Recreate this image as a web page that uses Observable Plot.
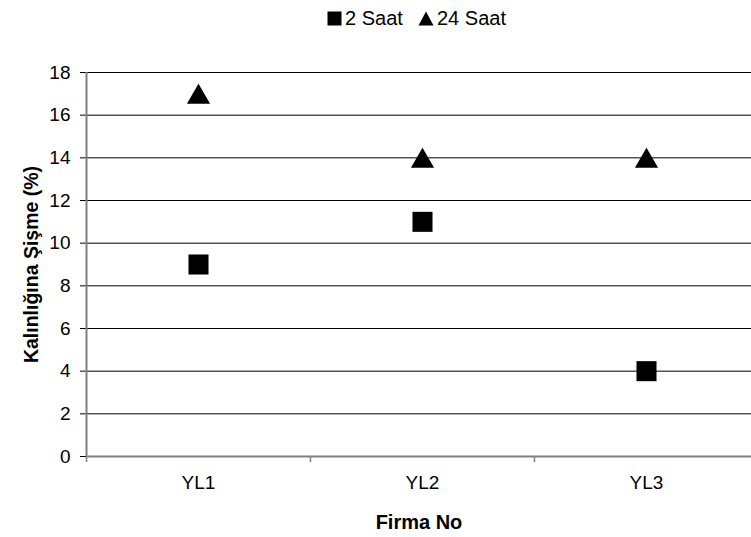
<!DOCTYPE html>
<html><head><meta charset="utf-8">
<script src="https://cdn.jsdelivr.net/npm/d3@7"></script>
<script src="https://cdn.jsdelivr.net/npm/@observablehq/plot@0.6"></script>
<style>
body{margin:0;background:#fff;font-family:"Liberation Sans",Arial,sans-serif;}
#legend{height:36px;width:751px;position:relative;font-size:20px;color:#000;}
#legend .item{position:absolute;top:7px;display:flex;align-items:center;line-height:22px;}
#legend svg{margin-right:3px;}
</style></head>
<body>
<div id="legend"></div>
<div id="chart"></div>
<script>
const categories = ["YL1", "YL2", "YL3"];
const series = ["2 Saat", "24 Saat"];
const values2h = [9, 11, 4];
const values24h = [17, 14, 14];
const yTicks = [0, 2, 4, 6, 8, 10, 12, 14, 16, 18];

const data = [];
categories.forEach((c, i) => {
  data.push({cat: c, pos: i + 0.5, series: series[0], value: values2h[i]});
  data.push({cat: c, pos: i + 0.5, series: series[1], value: values24h[i]});
});
const sq = data.filter(d => d.series === series[0]);
const tri = data.filter(d => d.series === series[1]);

const chart = Plot.plot({
  width: 751,
  height: 501,
  marginLeft: 86,
  marginTop: 36,
  marginBottom: 81,
  marginRight: 0,
  style: {fontFamily: "'Liberation Sans', Arial, sans-serif", background: "#fff"},
  x: {domain: [0, categories.length], range: [86, 758]},
  y: {domain: [0, 18]},
  marks: [
    Plot.ruleY(yTicks.filter(t => t > 0), {stroke: "#000", strokeWidth: 1}),
    Plot.axisY({ticks: yTicks, tickSize: 6, tickPadding: 10, fontSize: 19, label: null, stroke: "#000"}),
    Plot.axisX({ticks: d3.range(0, categories.length), tickSize: 6, tickFormat: () => "", label: null, stroke: "#808080", strokeWidth: 1.5}),
    Plot.axisX({ticks: categories.map((c, i) => i + 0.5), tickSize: 0, tickPadding: 19, fontSize: 19, tickFormat: v => categories[Math.floor(v)], label: null}),
    Plot.ruleX([0], {stroke: "#808080", strokeWidth: 2}),
    Plot.ruleY([0], {stroke: "#808080", strokeWidth: 2}),
    Plot.dot(sq, {x: "pos", y: "value", symbol: "square", r: 11.3, fill: "#000", stroke: "none"}),
    Plot.dot(tri, {x: "pos", y: "value", symbol: "triangle", r: 8.6, fill: "#000", stroke: "none", dy: 3.3}),
    Plot.text(["Kalınlığına Şişme (%)"], {frameAnchor: "left", dx: -55, rotate: -90, textAnchor: "middle", fontWeight: "bold", fontSize: 19.5}),
    Plot.text(["Firma No"], {frameAnchor: "bottom", dy: 66, textAnchor: "middle", lineAnchor: "middle", fontWeight: "bold", fontSize: 20})
  ]
});
document.getElementById("chart").appendChild(chart);

const legend = document.getElementById("legend");
const items = [
  {label: series[0], left: 327, shape: '<svg width="15" height="15"><rect x="0.5" y="0.5" width="14" height="14" fill="#000"/></svg>'},
  {label: series[1], left: 418, shape: '<svg width="16" height="15"><path d="M8 0.5 L15.5 14.5 L0.5 14.5 Z" fill="#000"/></svg>'}
];
items.forEach(it => {
  const d = document.createElement("div");
  d.className = "item";
  d.style.left = it.left + "px";
  d.innerHTML = it.shape + "<span>" + it.label + "</span>";
  legend.appendChild(d);
});
</script>
</body></html>
